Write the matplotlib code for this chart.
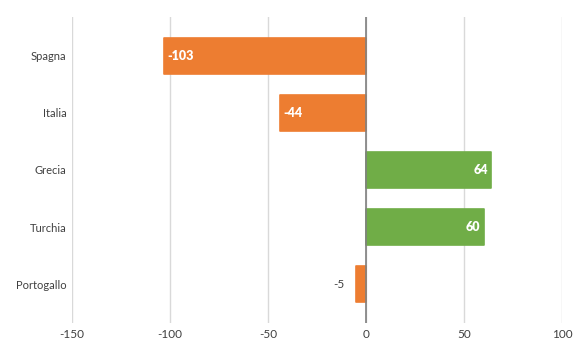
import matplotlib
matplotlib.use("Agg")
import matplotlib.pyplot as plt

categories = ["Spagna", "Italia", "Grecia", "Turchia", "Portogallo"]
values = [-103, -44, 64, 60, -5]
xticks = [-150, -100, -50, 0, 50, 100]

plt.rcParams['font.family'] = ['Lato', 'DejaVu Sans']

fig = plt.figure(figsize=(5.8, 3.59), dpi=100)
ax = fig.add_axes([72/580, 1-323/359, 490/580, (323-17)/359])

colors = ["#ED7D31" if v < 0 else "#70AD47" for v in values]
ypos = list(range(len(categories)))
bars = ax.barh(ypos, values, height=0.63, color=colors, edgecolor=colors,
               linewidth=1.2, joinstyle="round", zorder=3)

for y, v in zip(ypos, values):
    if abs(v) >= 20:
        if v < 0:
            ax.text(v + 1.8, y, f"{v}", ha="left", va="center", color="white",
                    fontsize=9, fontweight="heavy", zorder=4)
        else:
            ax.text(v - 1.8, y, f"{v}", ha="right", va="center", color="white",
                    fontsize=9, fontweight="heavy", zorder=4)
    else:
        ax.text(v - 6, y, f"{v}", ha="right", va="center", color="#404040",
                fontsize=8.5, zorder=4)

ax.set_xlim(-150, 100)
ax.set_ylim(4.68, -0.68)
ax.set_xticks(xticks)
ax.set_xticklabels([str(t) for t in xticks])
ax.set_yticks(ypos)
ax.set_yticklabels(categories)
ax.tick_params(axis="x", length=0, labelsize=8.5, colors="#404040", pad=4.5)
ax.tick_params(axis="y", length=0, labelsize=8, colors="#404040", pad=4)
for s in ax.spines.values():
    s.set_visible(False)
ax.grid(axis="x", color="#D9D9D9", linewidth=1, zorder=0)
ax.axvline(0, color="#808080", linewidth=1.2, zorder=5)

fig.savefig("out.png", dpi=100)
